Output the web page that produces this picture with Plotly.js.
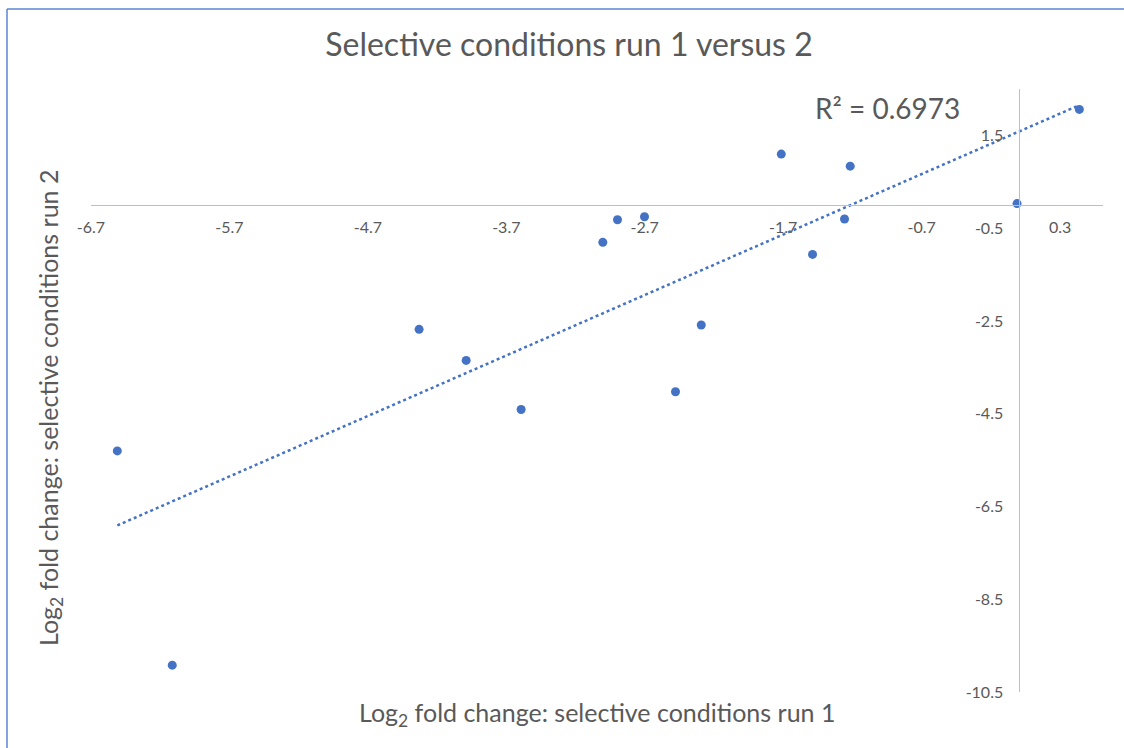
<!DOCTYPE html>
<html>
<head>
<meta charset="utf-8">
<script src="https://cdn.plot.ly/plotly-3.0.1.min.js"></script>
<style>
html,body{margin:0;padding:0;background:#fff;}
#chart{width:1124px;height:748px;}
</style>
</head>
<body>
<div id="chart"></div>
<script>
// Data
var run1 = [0.439, -1.714, -1.216, -0.011, -2.897, -2.702, -3.003, -1.257, -1.488, -2.292, -4.330, -3.990, -3.593, -2.478, -6.510, -6.113];
var run2 = [2.06, 1.096, 0.837, 0.03, -0.318, -0.253, -0.806, -0.303, -1.066, -2.588, -2.681, -3.351, -4.410, -4.027, -5.303, -9.922];
var xTickVals = [-6.7, -5.7, -4.7, -3.7, -2.7, -1.7, -0.7, 0.3];
var xTickText = ["-6.7", "-5.7", "-4.7", "-3.7", "-2.7", "-1.7", "-0.7", "0.3"];
var yTickVals = [1.5, -0.5, -2.5, -4.5, -6.5, -8.5, -10.5];
var yTickText = ["1.5", "-0.5", "-2.5", "-4.5", "-6.5", "-8.5", "-10.5"];
var rSquaredLabel = "R² = 0.6973";
var chartTitle = "Selective conditions run 1 versus 2";
var xTitle = "Log<sub>2</sub> fold change: selective conditions run 1";
var yTitle = "Log<sub>2</sub> fold change: selective conditions run 2";

// Linear least-squares trendline (Excel style, over data range)
var n = run1.length, sx = 0, sy = 0, sxx = 0, sxy = 0;
for (var i = 0; i < n; i++) { sx += run1[i]; sy += run2[i]; sxx += run1[i]*run1[i]; sxy += run1[i]*run2[i]; }
var slope = (n*sxy - sx*sy) / (n*sxx - sx*sx);
var intercept = (sy - slope*sx) / n;
var xmin = Math.min.apply(null, run1), xmax = Math.max.apply(null, run1);
var trendX = [xmin, xmax];
var trendY = trendX.map(function(v){ return intercept + slope*v; });

var W = 1124, H = 748;
var m = {l: 91, r: 21, t: 89, b: 56};
var xr = [-6.7, 0.61], yr = [-10.5, 2.5];
var pw = W - m.l - m.r, ph = H - m.t - m.b;
function px2paperX(p){ return (p - m.l) / pw; }
function px2paperY(p){ return (H - m.b - p) / ph; }

var blue = '#4472C4';
var gray = '#595959';
var font = 'Lato, "Open Sans", sans-serif';

var traces = [
  {x: run1, y: run2, mode: 'markers', type: 'scatter',
   marker: {color: blue, size: 9}, hoverinfo: 'x+y', showlegend: false},
  {x: trendX, y: trendY, mode: 'lines', type: 'scatter',
   line: {color: blue, width: 2.5, dash: 'dot'}, hoverinfo: 'skip', showlegend: false}
];

var layout = {
  width: W, height: H,
  margin: m,
  paper_bgcolor: '#fff', plot_bgcolor: '#fff',
  font: {family: font, color: gray},
  showlegend: false,
  title: {text: chartTitle, font: {size: 32, color: gray, family: font},
          x: 569/W, xref: 'container', xanchor: 'center', y: 1 - 45/H, yref: 'container', yanchor: 'middle'},
  xaxis: {range: xr, tickvals: xTickVals, ticktext: xTickText,
          anchor: 'free', position: (0 - yr[0]) / (yr[1] - yr[0]),
          showline: true, linecolor: '#BFBFBF', linewidth: 1.3,
          showgrid: false, zeroline: false, ticks: '',
          ticklabelstandoff: 8,
          tickfont: {size: 16, color: gray, family: font}, fixedrange: true},
  yaxis: {range: yr, tickvals: yTickVals, ticktext: yTickText,
          anchor: 'free', position: (0 - xr[0]) / (xr[1] - xr[0]),
          showline: true, linecolor: '#BFBFBF', linewidth: 1.3,
          showgrid: false, zeroline: false, ticks: '',
          ticklabelstandoff: 12,
          tickfont: {size: 16, color: gray, family: font}, fixedrange: true},
  annotations: [
    {text: rSquaredLabel, xref: 'paper', yref: 'paper', x: px2paperX(887), y: px2paperY(108),
     xanchor: 'center', yanchor: 'middle', showarrow: false, font: {size: 28, color: gray, family: font}},
    {text: xTitle, xref: 'paper', yref: 'paper', x: 0.5, y: px2paperY(714),
     xanchor: 'center', yanchor: 'middle', showarrow: false, font: {size: 25, color: gray, family: font}},
    {text: yTitle, xref: 'paper', yref: 'paper', x: px2paperX(50), y: px2paperY(408), textangle: -90,
     xanchor: 'center', yanchor: 'middle', showarrow: false, font: {size: 25, color: gray, family: font}}
  ],
  shapes: [
    {type: 'line', xref: 'paper', yref: 'paper', x0: px2paperX(7), x1: px2paperX(7), y0: px2paperY(9), y1: px2paperY(760),
     line: {color: '#5B86D6', width: 1.5}},
    {type: 'line', xref: 'paper', yref: 'paper', x0: px2paperX(7), x1: px2paperX(1130), y0: px2paperY(9), y1: px2paperY(9),
     line: {color: '#5B86D6', width: 1.5}}
  ]
};

Plotly.newPlot('chart', traces, layout, {displayModeBar: false, staticPlot: false});
</script>
</body>
</html>
